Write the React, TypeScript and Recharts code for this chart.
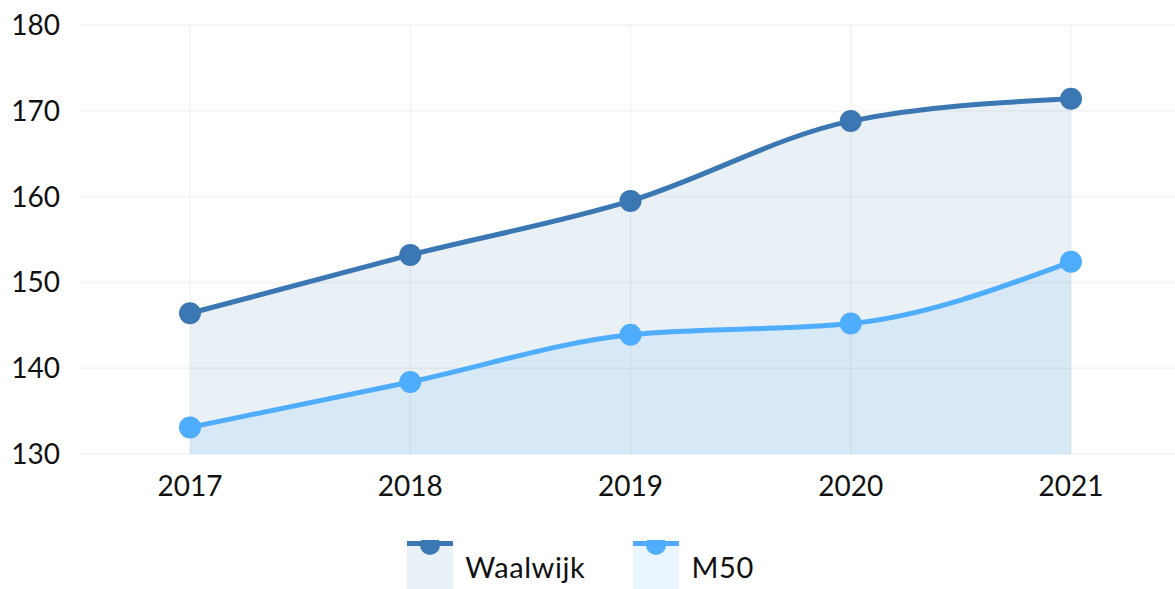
import React from 'react';
import { AreaChart, Area, XAxis, YAxis, CartesianGrid, Legend, ReferenceLine } from 'recharts';

const years = ['2017', '2018', '2019', '2020', '2021'];
const waalwijk = [146.4, 153.2, 159.5, 168.8, 171.4];
const m50 = [133.1, 138.4, 143.9, 145.2, 152.4];
const yTicks = [130, 140, 150, 160, 170, 180];

const seriesInfo = [
  { key: 'waalwijk', name: 'Waalwijk', color: '#3a77b3', fill: '#e8f0f8' },
  { key: 'm50', name: 'M50', color: '#4fadff', fill: '#e9f5ff' },
];

const data = years.map((year, i) => ({ year, waalwijk: waalwijk[i], m50: m50[i] }));

const FONT = 'Lato, "Open Sans", sans-serif';

function LegendContent() {
  return (
    <div style={{ display: 'flex', justifyContent: 'center', gap: 48, fontFamily: FONT, paddingRight: 14 }}>
      {seriesInfo.map(s => (
        <div key={s.key} style={{ display: 'flex', alignItems: 'center' }}>
          <svg width={46} height={49} style={{ display: 'block' }}>
            <rect x={0} y={3} width={46} height={46} fill={s.fill} />
            <rect x={0} y={1} width={46} height={5} fill={s.color} />
            <circle cx={23} cy={5} r={10} fill={s.color} />
          </svg>
          <span style={{ fontSize: 29, letterSpacing: 0.6, color: '#111', marginLeft: 12, marginTop: 4 }}>{s.name}</span>
        </div>
      ))}
    </div>
  );
}

export default function App() {
  return (
    <div style={{ position: 'absolute', left: 0, top: 0, width: 1175, height: 589, background: '#fff' }}>
      <AreaChart width={1175} height={589} data={data} margin={{ top: 25, right: 0, bottom: 0, left: 0 }}>
        <CartesianGrid stroke="#f3f3f3" strokeWidth={1.5} vertical={false} />
        <XAxis
          dataKey="year"
          height={86}
          padding={{ left: 110, right: 104 }}
          axisLine={false}
          tickLine={false}
          tickMargin={16}
          tick={{ fill: '#111', fontSize: 28, fontFamily: FONT }}
        />
        <YAxis
          width={80}
          domain={[130, 180]}
          ticks={yTicks}
          axisLine={false}
          tickLine={false}
          tickMargin={14}
          tick={{ fill: '#111', fontSize: 28, fontFamily: FONT }}
        />
        <Legend verticalAlign="bottom" height={49} content={<LegendContent />} />
        {seriesInfo.map(s => (
          <Area
            key={s.key}
            type="monotone"
            dataKey={s.key}
            name={s.name}
            stroke={s.color}
            strokeWidth={5}
            fill={s.color}
            fillOpacity={0.115}
            baseValue={130}
            dot={{ r: 11, fill: s.color, stroke: 'none', fillOpacity: 1 }}
            activeDot={false}
            isAnimationActive={false}
          />
        ))}
        {years.map(y => (
          <ReferenceLine key={y} x={y} stroke="rgba(0,0,0,0.045)" strokeWidth={1.5} />
        ))}
      </AreaChart>
    </div>
  );
}
